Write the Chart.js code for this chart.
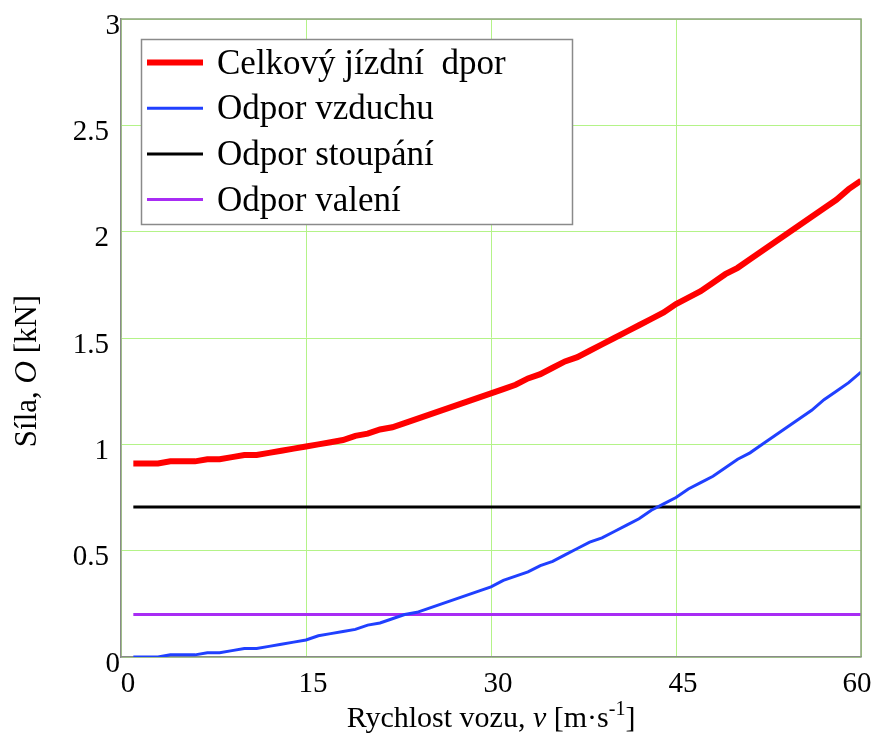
<!DOCTYPE html>
<html>
<head>
<meta charset="utf-8">
<script src="https://cdn.jsdelivr.net/npm/chart.js@4.4.0/dist/chart.umd.min.js"></script>
<style>
  body { margin: 0; background: #fff; overflow: hidden; }
  canvas { display: block; }
</style>
</head>
<body>
<canvas id="chart" width="875" height="736"></canvas>
<script>
// rychlost vozu v [m/s]
const speeds = [1, 2, 3, 4, 5, 6, 7, 8, 9, 10, 11, 12, 13, 14, 15, 16, 17, 18, 19, 20,
  21, 22, 23, 24, 25, 26, 27, 28, 29, 30, 31, 32, 33, 34, 35, 36, 37, 38, 39, 40,
  41, 42, 43, 44, 45, 46, 47, 48, 49, 50, 51, 52, 53, 54, 55, 56, 57, 58, 59, 60];

// odpory [kN]
const totalResistance = [0.91, 0.91, 0.91, 0.92, 0.92, 0.92, 0.93, 0.93, 0.94, 0.95,
  0.95, 0.96, 0.97, 0.98, 0.99, 1.00, 1.01, 1.02, 1.04, 1.05,
  1.07, 1.08, 1.10, 1.12, 1.14, 1.16, 1.18, 1.20, 1.22, 1.24,
  1.26, 1.28, 1.31, 1.33, 1.36, 1.39, 1.41, 1.44, 1.47, 1.50,
  1.53, 1.56, 1.59, 1.62, 1.66, 1.69, 1.72, 1.76, 1.80, 1.83,
  1.87, 1.91, 1.95, 1.99, 2.03, 2.07, 2.11, 2.15, 2.20, 2.24];
const airResistance = [0.00, 0.00, 0.00, 0.01, 0.01, 0.01, 0.02, 0.02, 0.03, 0.04,
  0.04, 0.05, 0.06, 0.07, 0.08, 0.10, 0.11, 0.12, 0.13, 0.15,
  0.16, 0.18, 0.20, 0.21, 0.23, 0.25, 0.27, 0.29, 0.31, 0.33,
  0.36, 0.38, 0.40, 0.43, 0.45, 0.48, 0.51, 0.54, 0.56, 0.59,
  0.62, 0.65, 0.69, 0.72, 0.75, 0.79, 0.82, 0.85, 0.89, 0.93,
  0.96, 1.00, 1.04, 1.08, 1.12, 1.16, 1.21, 1.25, 1.29, 1.34];
const gradeResistance = 0.705;
const rollingResistance = 0.2;

const xTicks = [0, 15, 30, 45, 60];
const yTicks = [0, 0.5, 1, 1.5, 2, 2.5, 3];

const seriesLabels = ['Celkový jízdní  dpor', 'Odpor vzduchu', 'Odpor stoupání', 'Odpor valení'];

const serif = '"Liberation Serif", "Times New Roman", serif';

function toPoints(values) {
    return speeds.map((v, i) => ({ x: v, y: Array.isArray(values) ? values[i] : values }));
}

// draws tick labels, axis titles, frame and legend box
const overlay = {
    id: 'overlay',
    afterDraw(chart) {
        const ctx = chart.ctx;
        const area = chart.chartArea;
        const xs = chart.scales.x;
        const ys = chart.scales.y;
        ctx.save();

        // top + right frame
        ctx.strokeStyle = '#8fa57f';
        ctx.lineWidth = 1.5;
        ctx.beginPath();
        ctx.moveTo(area.left, area.top);
        ctx.lineTo(area.right, area.top);
        ctx.lineTo(area.right, area.bottom);
        ctx.stroke();

        // tick labels
        ctx.fillStyle = '#000';
        ctx.font = '29px ' + serif;
        ctx.textAlign = 'right';
        ctx.textBaseline = 'middle';
        yTicks.forEach((t, i) => {
            const shift = (i === 0 || i === yTicks.length - 1) ? 11 : 0;
            ctx.fillText(String(t), area.left - 12 + shift, ys.getPixelForValue(t) + 7);
        });
        ctx.textAlign = 'center';
        xTicks.forEach((t, i) => {
            let px = xs.getPixelForValue(t) + 7;
            if (i === xTicks.length - 1) px -= 11;
            ctx.fillText(String(t), px, area.bottom + 27);
        });

        // x title
        const xParts = [
            ['Rychlost vozu, ', '30px ' + serif, 0],
            ['v', 'italic 30px ' + serif, 0],
            [' [m·s', '30px ' + serif, 0],
            ['-1', '20px ' + serif, -12],
            [']', '30px ' + serif, 0]
        ];
        ctx.textBaseline = 'alphabetic';
        drawParts(ctx, xParts, (area.left + area.right) / 2, 727);

        // y title
        ctx.save();
        ctx.translate(28, 371);
        ctx.rotate(-Math.PI / 2);
        ctx.textBaseline = 'middle';
        const yParts = [
            ['Síla, ', '31px ' + serif, 0],
            ['O', 'italic 31px ' + serif, 0],
            [' [kN]', '31px ' + serif, 0]
        ];
        drawParts(ctx, yParts, 0, 0);
        ctx.restore();

        // legend
        const box = { x: 141.5, y: 39.5, w: 431, h: 185 };
        ctx.fillStyle = '#fff';
        ctx.fillRect(box.x, box.y, box.w, box.h);
        ctx.strokeStyle = '#8a8a8a';
        ctx.lineWidth = 1.5;
        ctx.strokeRect(box.x, box.y, box.w, box.h);
        ctx.font = '35px ' + serif;
        ctx.textAlign = 'left';
        ctx.textBaseline = 'middle';
        chart.data.datasets.forEach((ds, i) => {
            const cy = box.y + 23 + i * 45.7;
            ctx.strokeStyle = ds.borderColor;
            ctx.lineWidth = ds.borderWidth;
            ctx.beginPath();
            ctx.moveTo(147, cy);
            ctx.lineTo(203, cy);
            ctx.stroke();
            ctx.fillStyle = '#000';
            ctx.fillText(ds.label, 217, cy + 2);
        });

        ctx.restore();
    }
};

function drawParts(ctx, parts, cx, baseY) {
    let total = 0;
    parts.forEach(p => { ctx.font = p[1]; total += ctx.measureText(p[0]).width; });
    let x = cx - total / 2;
    ctx.textAlign = 'left';
    parts.forEach(p => {
        ctx.font = p[1];
        ctx.fillText(p[0], x, baseY + p[2]);
        x += ctx.measureText(p[0]).width;
    });
}

const ctx = document.getElementById('chart').getContext('2d');
const myChart = new Chart(ctx, {
    type: 'line',
    data: {
        datasets: [
            { label: seriesLabels[0], data: toPoints(totalResistance), borderColor: '#ff0000', borderWidth: 6 },
            { label: seriesLabels[1], data: toPoints(airResistance), borderColor: '#2040ff', borderWidth: 3 },
            { label: seriesLabels[2], data: toPoints(gradeResistance), borderColor: '#000000', borderWidth: 3 },
            { label: seriesLabels[3], data: toPoints(rollingResistance), borderColor: '#a82cf4', borderWidth: 3 }
        ]
    },
    options: {
        responsive: false,
        animation: false,
        layout: { padding: { top: 19, right: 14, left: 0, bottom: 0 } },
        elements: { point: { radius: 0 }, line: { tension: 0, fill: false } },
        plugins: { legend: { display: false }, tooltip: { enabled: false } },
        scales: {
            x: {
                type: 'linear',
                min: 0,
                max: 60,
                afterBuildTicks: scale => { scale.ticks = xTicks.map(v => ({ value: v })); },
                afterFit: scale => { scale.height = 79; },
                ticks: { display: false },
                grid: { color: '#b4f388', lineWidth: 1, drawTicks: false },
                border: { color: '#8a8a8a', width: 1.5 }
            },
            y: {
                type: 'linear',
                min: 0,
                max: 3,
                afterBuildTicks: scale => { scale.ticks = yTicks.map(v => ({ value: v })); },
                afterFit: scale => { scale.width = 121; },
                ticks: { display: false },
                grid: { color: '#b4f388', lineWidth: 1, drawTicks: false },
                border: { color: '#8a8a8a', width: 1.5 }
            }
        }
    },
    plugins: [overlay]
});
</script>
</body>
</html>
